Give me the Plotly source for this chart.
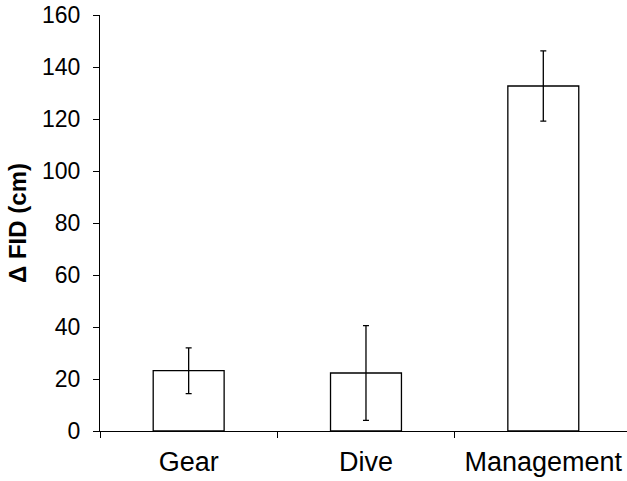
import plotly.graph_objects as go

# Mean change in flight initiation distance per treatment, with error bars
categories = ["Gear", "Dive", "Management"]
delta_fid = [23.2, 22.3, 132.7]
err = [8.8, 18.2, 13.5]

fig = go.Figure(
    go.Bar(
        x=categories,
        y=delta_fid,
        width=0.4,
        marker=dict(color="white", line=dict(color="black", width=1.3)),
        error_y=dict(type="data", array=err, visible=True,
                     color="black", thickness=1.3, width=3),
    )
)

font_family = "Liberation Sans"

fig.update_layout(
    width=627,
    height=481,
    margin=dict(l=100, r=0, t=15, b=50),
    plot_bgcolor="white",
    paper_bgcolor="white",
    showlegend=False,
    font=dict(family=font_family, color="black"),
)

fig.update_xaxes(
    type="category",
    range=[-0.5, 2.472],
    showline=True, linecolor="black", linewidth=1.3,
    ticks="outside", tickson="boundaries", ticklen=6, tickwidth=1.3,
    tickcolor="black",
    tickfont=dict(size=27, family=font_family),
    ticklabelstandoff=6,
    showgrid=False, zeroline=False,
)

fig.update_yaxes(
    range=[0, 160],
    tickvals=[0, 20, 40, 60, 80, 100, 120, 140, 160],
    showline=True, linecolor="black", linewidth=1.3,
    ticks="outside", ticklen=6, tickwidth=1.3, tickcolor="black",
    tickfont=dict(size=23, family=font_family),
    ticklabelstandoff=8,
    showgrid=False, zeroline=False,
    title=dict(text="<b>Δ FID (cm)</b>",
               font=dict(size=24, family=font_family), standoff=8),
)

fig.write_html("out.html")
